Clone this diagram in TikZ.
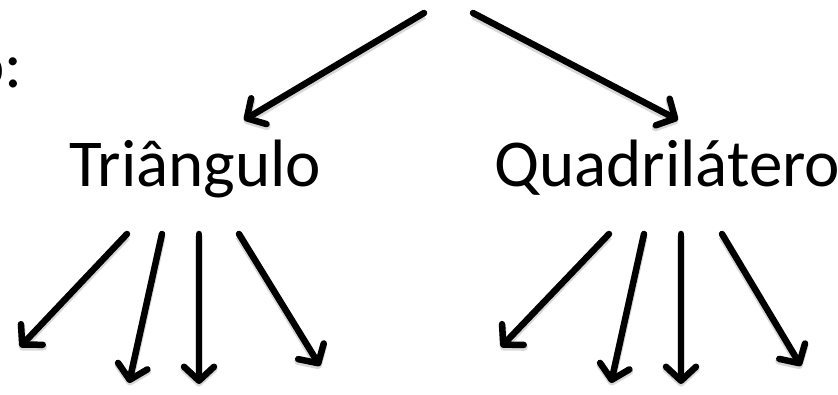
\documentclass[tikz,border=0pt]{standalone}
\usepackage{fontspec}
\setmainfont{Carlito}
\usetikzlibrary{arrows.meta}
\tikzset{
  lbl/.style={inner sep=0pt, anchor=base west, font=\fontsize{67}{80}\selectfont},
  arr/.style={line width=6.5pt, line cap=round, line join=round,
    -{Straight Barb[length=14pt,width=30pt,line cap=round,line join=round]},
    preaction={draw=black!30, line width=7.5pt, transform canvas={yshift=-2.5pt}, opacity=.5}},
}
\begin{document}
\begin{tikzpicture}[x=1pt,y=-1pt]
\useasboundingbox (0,0) rectangle (838,395);
\clip (0,0) rectangle (838,395);
% text
\node[lbl] (head) at (-31,88) {o:};
\node[lbl] (tri) at (69,187) {Triângulo};
\node[lbl] (quad) at (494,187) {Quadrilátero};
% top arrows
\coordinate (t1) at (424,13);
\coordinate (t2) at (473,13);
\coordinate (h1) at (244,120);
\coordinate (h2) at (678,120);
\draw[arr] (t1) -- (h1);
\draw[arr] (t2) -- (h2);
% Triangulo children
\coordinate (a1s) at (127,234); \coordinate (a1e) at (20,347);
\coordinate (a2s) at (162,234); \coordinate (a2e) at (129,383);
\coordinate (a3s) at (199,234); \coordinate (a3e) at (199,384);
\coordinate (a4s) at (239,234); \coordinate (a4e) at (320,366);
\draw[arr] (a1s) -- (a1e);
\draw[arr] (a2s) -- (a2e);
\draw[arr] (a3s) -- (a3e);
\draw[arr] (a4s) -- (a4e);
% Quadrilatero children
\coordinate (b1s) at (609,234); \coordinate (b1e) at (501,347);
\coordinate (b2s) at (644,234); \coordinate (b2e) at (611,383);
\coordinate (b3s) at (681,234); \coordinate (b3e) at (681,384);
\coordinate (b4s) at (722,234); \coordinate (b4e) at (801,366);
\draw[arr] (b1s) -- (b1e);
\draw[arr] (b2s) -- (b2e);
\draw[arr] (b3s) -- (b3e);
\draw[arr] (b4s) -- (b4e);
\end{tikzpicture}
\end{document}
